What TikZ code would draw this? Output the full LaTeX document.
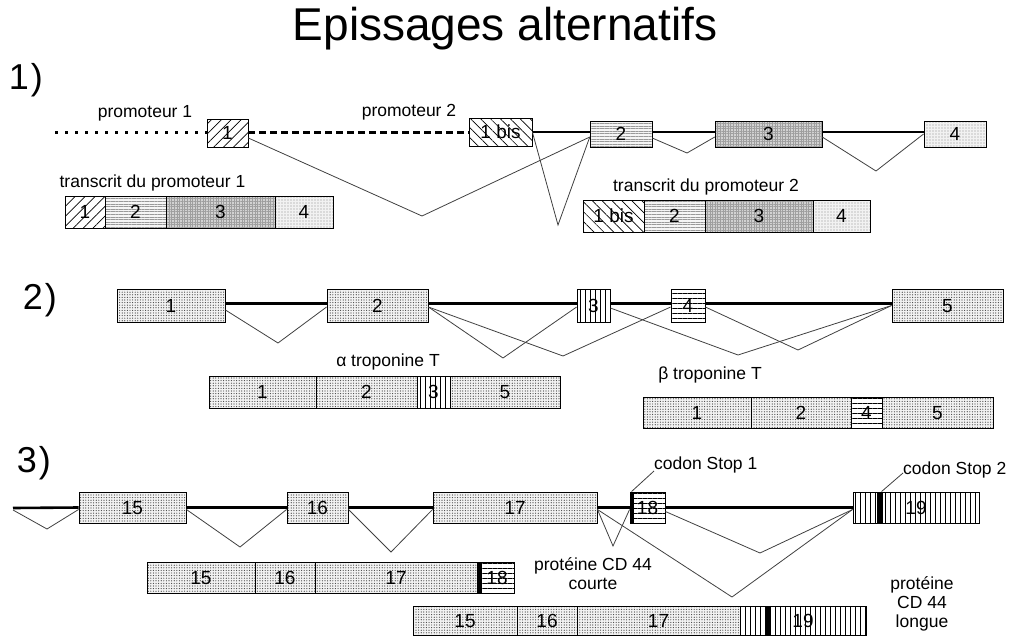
\documentclass[tikz,border=0pt]{standalone}
\usepackage{fontspec}
\setmainfont{Liberation Sans}
\usetikzlibrary{patterns.meta}
\begin{document}
\begin{tikzpicture}[x=1pt,y=-1pt,
  ex/.style={draw, line width=0.9pt, inner sep=0pt, text height=13.6pt, text depth=0pt, font=\fontsize{19}{19}\selectfont},
  stip/.style={ex, preaction={fill=gray!10}, pattern={Dots[distance=2.6pt,radius=0.6pt]}, pattern color=black!75},
  hne/.style={ex, pattern={Lines[angle=45,distance=7pt,line width=0.7pt]}},
  hnw/.style={ex, pattern={Lines[angle=-45,distance=7pt,line width=0.7pt]}},
  hhor/.style={ex, preaction={fill=gray!8}, pattern={Lines[angle=0,distance=2.6pt,line width=0.45pt]}, pattern color=gray!80},
  grd/.style={ex, preaction={fill=gray!35}, pattern={Hatch[distance=2.6pt,line width=0.5pt]}, pattern color=gray!75},
  dgrid/.style={ex, preaction={fill=gray!10}, pattern={Dots[distance=3pt,radius=0.7pt]}, pattern color=gray!90},
  vl/.style={ex, pattern={Lines[angle=90,distance=5pt,line width=0.8pt]}},
  hl/.style={ex, pattern={Lines[angle=0,distance=5pt,line width=0.8pt]}},
  intron/.style={line width=2.6pt},
  splice/.style={line width=0.8pt, black!75},
  lab/.style={font=\fontsize{17.5}{19}\selectfont, inner sep=0pt},
  num/.style={font=\fontsize{36}{36}\selectfont, inner sep=0pt},
]
\useasboundingbox (0,0) rectangle (1010,638);
\node[font=\fontsize{46}{46}\selectfont, anchor=base] (title) at (505,40) {Epissages alternatifs};
\node[num] (n1) at (26,80) {1\kern2pt)};
\node[num] (n2) at (40,300) {2\kern2pt)};
\node[num] (n3) at (34,463) {3\kern2pt)};

% ---------- section 1
\node[lab] (p1) at (145,113) {promoteur 1};
\node[lab] (p2) at (409,112) {promoteur 2};
\node[hne, minimum width=41, minimum height=28] (e1a) at (227.5,133) {1};
\node[hnw, minimum width=63, minimum height=28] (e1b) at (500.5,132) {1 bis};
\node[hhor, minimum width=62, minimum height=26] (e12) at (621,134) {2};
\node[grd, minimum width=107, minimum height=26] (e13) at (768.5,134) {3};
\node[dgrid, minimum width=62, minimum height=26] (e14) at (955,134) {4};
\coordinate (s1) at (55,132);
\draw[line width=3pt, dash pattern=on 3pt off 7pt] (s1) -- (e1a.west |- s1);
\draw[line width=3pt, dash pattern=on 7pt off 4pt] (e1a.east |- s1) -- (e1b.west |- s1);
\draw[intron] (e1b.east |- s1) -- (e12.west |- s1);
\draw[intron] (e12.east |- s1) -- (e13.west |- s1);
\draw[intron] (e13.east |- s1) -- (e14.west |- s1);
\coordinate (v11) at (422,216);
\coordinate (v12) at (558,225);
\coordinate (v13) at (687,153);
\coordinate (v14) at (876,171);
\draw[splice] ([yshift=-5pt]e1a.east) -- (v11) -- ([yshift=-3pt]e12.west);
\draw[splice] (e1b.east) -- (v12) -- ([yshift=-3pt]e12.west);
\draw[splice] ([yshift=-4pt]e12.east) -- (v13) -- ([yshift=-3pt]e13.west);
\draw[splice] ([yshift=-3pt]e13.east) -- (v14) -- (e14.west);

\node[lab] (tr1) at (152.5,183) {transcrit du promoteur 1};
\node[hne, minimum width=40, minimum height=32] (t1a) at (85,212) {1};
\node[hhor, minimum width=61, minimum height=32] (t1b) at (135.5,212) {2};
\node[grd, minimum width=109, minimum height=32] (t1c) at (220.5,212) {3};
\node[dgrid, minimum width=58, minimum height=32] (t1d) at (304,212) {4};
\node[lab] (tr2) at (706,187) {transcrit du promoteur 2};
\node[hnw, minimum width=61, minimum height=32] (t2a) at (613.5,216) {1 bis};
\node[hhor, minimum width=61, minimum height=32] (t2b) at (674.5,216) {2};
\node[grd, minimum width=108, minimum height=32] (t2c) at (759,216) {3};
\node[dgrid, minimum width=57, minimum height=32] (t2d) at (841.5,216) {4};

% ---------- section 2
\node[stip, minimum width=108, minimum height=33] (f1) at (171,305.5) {1};
\node[stip, minimum width=101, minimum height=33] (f2) at (377.5,305.5) {2};
\node[vl, minimum width=33, minimum height=33] (f3) at (593.5,305.5) {3};
\node[hl, minimum width=34, minimum height=33] (f4) at (688,305.5) {4};
\node[stip, minimum width=111, minimum height=33] (f5) at (947.5,305.5) {5};
\draw[intron] ([yshift=2pt]f1.east) -- ([yshift=2pt]f2.west);
\draw[intron] ([yshift=2pt]f2.east) -- ([yshift=2pt]f3.west);
\draw[intron] ([yshift=2pt]f3.east) -- ([yshift=2pt]f4.west);
\draw[intron] ([yshift=2pt]f4.east) -- ([yshift=2pt]f5.west);
\coordinate (v21) at (278,343);
\coordinate (v22) at (503,358);
\coordinate (v23) at (563,356);
\coordinate (v24) at (738,355);
\coordinate (v25) at (798,350);
\draw[splice] ([yshift=-4.5pt]f1.east) -- (v21) -- ([yshift=-1.5pt]f2.west);
\draw[splice] ([yshift=-1.5pt]f2.east) -- (v22) -- ([yshift=-1.5pt]f3.west);
\draw[splice] ([yshift=-1.5pt]f2.east) -- (v23) -- ([yshift=-1.5pt]f4.west);
\draw[splice] ([yshift=-2.5pt]f3.east) -- (v24) -- (f5.west);
\draw[splice] ([yshift=-1.5pt]f4.east) -- (v25) -- (f5.west);

\node[lab] (alpha) at (388,362) {α troponine T};
\node[stip, minimum width=107, minimum height=32] (a1) at (262.5,392) {1};
\node[stip, minimum width=101, minimum height=32] (a2) at (366.5,392) {2};
\node[vl, minimum width=33, minimum height=32] (a3) at (433.5,392) {3};
\node[stip, minimum width=110, minimum height=32] (a5) at (505,392) {5};
\node[lab] (beta) at (710,375) {β troponine T};
\node[stip, minimum width=108, minimum height=31] (b1) at (697,412.5) {1};
\node[stip, minimum width=100, minimum height=31] (b2) at (801,412.5) {2};
\node[hl, minimum width=31, minimum height=31] (b4) at (866.5,412.5) {4};
\node[stip, minimum width=111, minimum height=31] (b5) at (937.5,412.5) {5};

% ---------- section 3
\coordinate (s3) at (13,508);
\node[stip, minimum width=107, minimum height=31] (g15) at (132.5,507.5) {15};
\node[stip, minimum width=61, minimum height=31] (g16) at (317.5,507.5) {16};
\node[stip, minimum width=164, minimum height=31] (g17) at (515,507.5) {17};
\node[hl, minimum width=35, minimum height=31] (g18) at (647.5,507.5) {18};
\node[vl, minimum width=126, minimum height=31] (g19) at (916,507.5) {19};
\fill (g18.north west) rectangle ([xshift=4pt]g18.south west);
\fill ([xshift=24pt]g19.north west) rectangle ([xshift=30pt]g19.south west);
\draw[intron] (s3) -- (g15.west);
\draw[intron] (g15.east) -- (g16.west);
\draw[intron] (g16.east) -- (g17.west);
\draw[intron] (g17.east) -- (g18.west);
\draw[intron] (g18.east) -- (g19.west);
\coordinate (v31) at (47,529);
\coordinate (v32) at (240,547);
\coordinate (v33) at (391,552);
\coordinate (v34) at (613,546);
\coordinate (v35) at (732,597);
\coordinate (v36) at (760,553);
\draw[splice] ([yshift=-2pt]s3) -- (v31) -- ([yshift=-2pt]g15.west);
\draw[splice] ([yshift=-2pt]g15.east) -- (v32) -- ([yshift=-2pt]g16.west);
\draw[splice] ([yshift=-2pt]g16.east) -- (v33) -- ([yshift=-2pt]g17.west);
\draw[splice] ([yshift=-2pt]g17.east) -- (v34) -- ([yshift=-2pt]g18.west);
\draw[splice] ([yshift=-2pt]g17.east) -- (v35) -- ([yshift=-2pt]g19.west);
\draw[splice] ([yshift=-4pt]g18.east) -- (v36) -- ([yshift=-2pt]g19.west);

\node[lab, anchor=west] (stop1) at (654,465) {codon Stop 1};
\node[lab, anchor=west] (stop2) at (903,470) {codon Stop 2};
\draw[splice] ([xshift=2pt]g18.north west) -- ([yshift=-6pt]stop1.west);
\draw[splice] ([xshift=29pt]g19.north west) -- ([yshift=-3pt]stop2.west);

\node[lab, align=center] (court) at (593,573.5) {protéine CD 44\\courte};
\node[stip, minimum width=108, minimum height=31] (h15) at (201,577.5) {15};
\node[stip, minimum width=60, minimum height=31] (h16) at (285,577.5) {16};
\node[stip, minimum width=162, minimum height=31] (h17) at (396,577.5) {17};
\node[hl, minimum width=37, minimum height=31] (h18) at (495.5,577.5) {\kern3pt 18};
\fill (h18.north west) rectangle ([xshift=5pt]h18.south west);

\node[lab, align=center] (long) at (922,604) {protéine\\CD 44\\longue};
\node[stip, minimum width=104, minimum height=29] (k15) at (465,620.5) {15};
\node[stip, minimum width=60, minimum height=29] (k16) at (547,620.5) {16};
\node[stip, minimum width=163, minimum height=29] (k17) at (658.5,620.5) {17};
\node[vl, minimum width=126, minimum height=29] (k19) at (803,620.5) {19};
\fill ([xshift=26pt]k19.north west) rectangle ([xshift=31pt]k19.south west);
\end{tikzpicture}
\end{document}
